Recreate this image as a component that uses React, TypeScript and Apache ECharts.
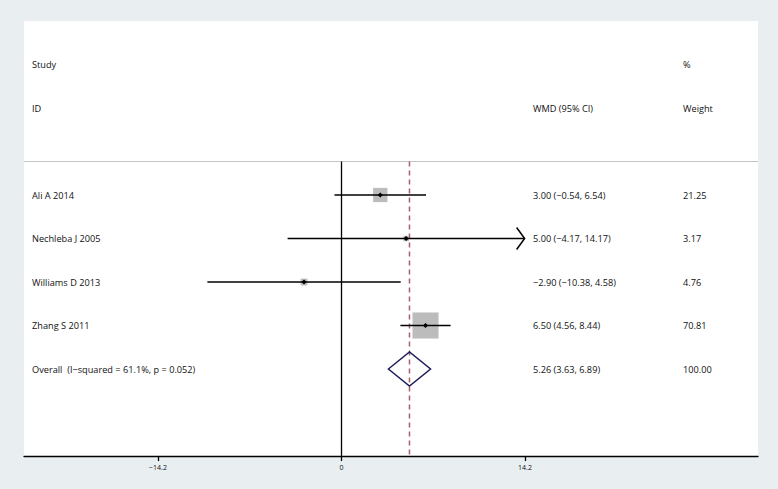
import React, { useEffect, useRef } from "react";
import * as echarts from "echarts";

// ---- data ----
const studies = ["Ali A 2014", "Nechleba J 2005", "Williams D 2013", "Zhang S 2011"];
const wmd = [3.0, 5.0, -2.9, 6.5];
const lower = [-0.54, -4.17, -10.38, 4.56];
const upper = [6.54, 14.17, 4.58, 8.44];
const weights = [21.25, 3.17, 4.76, 70.81];
const arrowRight = [false, true, false, false];

const overallLabel = "Overall  (I\u2212squared = 61.1%, p = 0.052)";
const overallEst = 5.26;
const overallLower = 3.63;
const overallUpper = 6.89;
const overallWeight = 100.0;

const tickValues = [-14.2, 0, 14.2];

// ---- helpers ----
const fmt = (v: number) => {
  const s = v.toFixed(2);
  return s.startsWith("-") ? "\u2212" + s.slice(1) : s;
};
const fmtTick = (v: number) => {
  const s = String(v);
  return s.startsWith("-") ? "\u2212" + s.slice(1) : s;
};

// row positions (y axis units, top = 0)
const studyRow0 = 4;
const overallRow = 8;
const headerRow1 = 1;
const headerRow2 = 2;
const sepRow = 3.23;
const bottomRow = 10;

// text table built from arrays
type TextCell = { text: string; row: number; col: number };
const textCells: TextCell[] = [
  { text: "Study", row: headerRow1, col: 0 },
  { text: "ID", row: headerRow2, col: 0 },
  { text: "WMD (95% CI)", row: headerRow2, col: 1 },
  { text: "%", row: headerRow1, col: 2 },
  { text: "Weight", row: headerRow2, col: 2 },
  ...studies.flatMap((s, i) => [
    { text: s, row: studyRow0 + i, col: 0 },
    { text: `${fmt(wmd[i])} (${fmt(lower[i])}, ${fmt(upper[i])})`, row: studyRow0 + i, col: 1 },
    { text: weights[i].toFixed(2), row: studyRow0 + i, col: 2 },
  ]),
  { text: overallLabel, row: overallRow, col: 0 },
  { text: `${fmt(overallEst)} (${fmt(overallLower)}, ${fmt(overallUpper)})`, row: overallRow, col: 1 },
  { text: overallWeight.toFixed(2), row: overallRow, col: 2 },
];

const colOffsets = [8, 509, 659];
const FONT = "'Open Sans', 'DejaVu Sans', sans-serif";
const TEXT_COLOR = "#111111";

export default function App() {
  const ref = useRef<HTMLDivElement>(null);

  useEffect(() => {
    if (!ref.current) return;
    const chart = echarts.init(ref.current, undefined, { renderer: "svg" });

    const option: any = {
      animation: false,
      backgroundColor: "transparent",
      grid: {
        left: 24,
        right: 20,
        top: 21,
        bottom: 33,
        show: true,
        backgroundColor: "#ffffff",
        borderWidth: 0,
      },
      xAxis: {
        type: "value",
        min: -24.57,
        max: 32.23,
        splitLine: { show: false },
        axisLine: { show: true, onZero: false, lineStyle: { color: "#000", width: 1.3 } },
        axisTick: {
          show: true,
          customValues: tickValues,
          length: 5,
          lineStyle: { color: "#000", width: 1.3 },
        },
        axisLabel: {
          show: true,
          customValues: tickValues,
          formatter: (v: number) => fmtTick(v),
          fontSize: 7,
          fontFamily: FONT,
          color: "#111",
          margin: 8,
        },
      },
      yAxis: {
        type: "value",
        inverse: true,
        min: 0,
        max: bottomRow,
        show: false,
      },
      series: [
        // separator line under header
        {
          type: "custom",
          data: [[0, sepRow]],
          renderItem: (params: any, api: any) => {
            const cs = params.coordSys;
            const y = api.coord([0, api.value(1)])[1];
            return {
              type: "line",
              shape: { x1: cs.x, y1: y, x2: cs.x + cs.width, y2: y },
              style: { stroke: "#c4c4c4", lineWidth: 1 },
            };
          },
          z: 1,
        },
        // reference lines: null (0) and overall estimate (dashed)
        {
          type: "custom",
          data: [
            [0, sepRow, bottomRow, 0],
            [overallEst, sepRow, bottomRow, 1],
          ],
          renderItem: (params: any, api: any) => {
            const x = api.value(0);
            const p1 = api.coord([x, api.value(1)]);
            const p2 = api.coord([x, api.value(2)]);
            const dashed = api.value(3) === 1;
            return {
              type: "line",
              shape: { x1: p1[0], y1: p1[1], x2: p2[0], y2: p2[1] },
              style: dashed
                ? { stroke: "#a8606c", lineWidth: 1.5, lineDash: [5, 4] }
                : { stroke: "#000", lineWidth: 1.3 },
            };
          },
          z: 2,
        },
        // studies: box, CI line, point marker, arrow
        {
          type: "custom",
          data: studies.map((_, i) => [
            wmd[i],
            studyRow0 + i,
            lower[i],
            upper[i],
            weights[i],
            arrowRight[i] ? 1 : 0,
          ]),
          renderItem: (params: any, api: any) => {
            const est = api.value(0);
            const row = api.value(1);
            const lo = api.value(2);
            const hi = api.value(3);
            const w = api.value(4);
            const arr = api.value(5);
            const [cx, cy] = api.coord([est, row]);
            const x1 = api.coord([lo, row])[0];
            const x2 = api.coord([hi, row])[0];
            const s = 3.1 * Math.sqrt(w);
            const r = 2.6;
            const children: any[] = [
              {
                type: "rect",
                shape: { x: cx - s / 2, y: cy - s / 2, width: s, height: s },
                style: { fill: "#bcbcbc" },
              },
              {
                type: "line",
                shape: { x1, y1: cy, x2, y2: cy },
                style: { stroke: "#000", lineWidth: 1.5 },
              },
              {
                type: "polygon",
                shape: {
                  points: [
                    [cx, cy - r],
                    [cx + r, cy],
                    [cx, cy + r],
                    [cx - r, cy],
                  ],
                },
                style: { fill: "#000" },
              },
            ];
            if (arr === 1) {
              children.push({
                type: "polyline",
                shape: {
                  points: [
                    [x2 - 8, cy - 11],
                    [x2, cy],
                    [x2 - 8, cy + 11],
                  ],
                },
                style: { stroke: "#000", lineWidth: 1.5, fill: "none" },
              });
            }
            return { type: "group", children };
          },
          z: 3,
        },
        // overall diamond
        {
          type: "custom",
          data: [[overallEst, overallRow, overallLower, overallUpper]],
          renderItem: (params: any, api: any) => {
            const est = api.value(0);
            const row = api.value(1);
            const lo = api.value(2);
            const hi = api.value(3);
            const h = 0.39;
            return {
              type: "polygon",
              shape: {
                points: [
                  api.coord([lo, row]),
                  api.coord([est, row - h]),
                  api.coord([hi, row]),
                  api.coord([est, row + h]),
                ],
              },
              style: { stroke: "#1f1f5c", lineWidth: 1.5, fill: "none" },
            };
          },
          z: 4,
        },
        // text columns
        {
          type: "custom",
          data: textCells.map((c) => [c.col, c.row]),
          renderItem: (params: any, api: any) => {
            const cell = textCells[params.dataIndex];
            const cs = params.coordSys;
            const y = api.coord([0, cell.row])[1];
            return {
              type: "text",
              x: cs.x + colOffsets[cell.col],
              y,
              style: {
                text: cell.text,
                fill: TEXT_COLOR,
                font: `9.2px ${FONT}`,
                textAlign: "left",
                textVerticalAlign: "middle",
              },
            };
          },
          z: 5,
        },
      ],
    };

    chart.setOption(option);
    return () => chart.dispose();
  }, []);

  return (
    <div
      style={{
        position: "fixed",
        left: 0,
        top: 0,
        width: 778,
        height: 489,
        background: "#e9eff1",
      }}
    >
      <div ref={ref} style={{ width: 778, height: 489 }} />
    </div>
  );
}
